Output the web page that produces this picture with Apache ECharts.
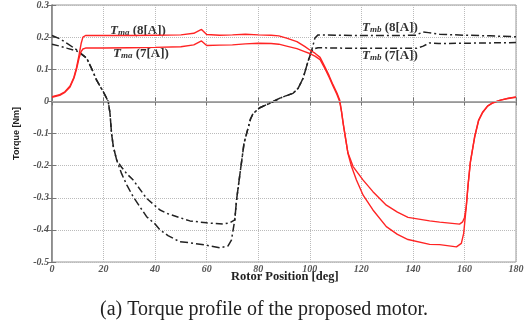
<!DOCTYPE html>
<html>
<head>
<meta charset="utf-8">
<script src="https://cdn.jsdelivr.net/npm/echarts@6/dist/echarts.min.js"></script>
<style>html,body{margin:0;padding:0;background:#fff;}#c{width:528px;height:326px;}</style>
</head>
<body>
<div id="c"></div>
<script>
// Rotor position ticks
var xTickLabels = ['0','20','40','60','80','100','120','140','160','180'];
var yTickLabels = ['-0.5','-0.4','-0.3','-0.2','-0.1','0','0.1','0.2','0.3'];

// T_ma (8[A]) – red
var tma8 = [[0,0.015],[3,0.021],[5,0.03],[7,0.048],[8.5,0.075],[9.5,0.105],[10.5,0.145],[11.3,0.18],[12,0.2],[13,0.205],[20,0.205],[30,0.205],[40,0.206],[50,0.207],[55,0.212],[58,0.224],[60,0.208],[65,0.206],[70,0.207],[75,0.209],[80,0.207],[85,0.206],[88,0.204],[91,0.197],[95,0.186],[98,0.171],[100,0.16],[102,0.15],[104,0.137],[106,0.105],[107.5,0.08],[109,0.052],[110.5,0.027],[111.6,0.004],[112.3,-0.03],[113,-0.07],[114,-0.12],[114.8,-0.162],[116.2,-0.203],[118.1,-0.245],[120.7,-0.292],[124.5,-0.338],[129.7,-0.39],[134,-0.414],[138.1,-0.43],[146.5,-0.445],[150.4,-0.446],[156.9,-0.453],[158.8,-0.442],[159.7,-0.411],[160.7,-0.328],[161.4,-0.262],[162.3,-0.19],[164,-0.11],[165.5,-0.06],[167,-0.036],[169,-0.015],[171,-0.005],[174,0.004],[177,0.01],[180,0.014]];
// T_ma (7[A]) – red
var tma7 = [[0,0.013],[3,0.019],[5,0.028],[7,0.045],[8.5,0.072],[9.5,0.1],[10.5,0.135],[11.3,0.155],[12,0.163],[13,0.166],[20,0.166],[30,0.167],[40,0.168],[50,0.17],[55,0.176],[58,0.188],[60,0.174],[65,0.175],[70,0.176],[75,0.179],[80,0.181],[85,0.18],[88,0.178],[91,0.172],[95,0.164],[98,0.155],[100,0.149],[102,0.141],[104,0.13],[106,0.1],[107.5,0.075],[109,0.048],[110.5,0.022],[111.6,0.0],[112.3,-0.032],[113,-0.072],[114,-0.122],[114.8,-0.16],[116.8,-0.203],[120.7,-0.245],[124.5,-0.281],[129.7,-0.323],[134,-0.345],[138.1,-0.361],[146.5,-0.372],[150.4,-0.376],[158.1,-0.382],[159.3,-0.375],[160,-0.362],[160.7,-0.328],[161.4,-0.26],[162.3,-0.188],[164,-0.108],[165.5,-0.058],[167,-0.034],[169,-0.014],[171,-0.004],[174,0.004],[177,0.009],[180,0.013]];
// T_mb (8[A]) – black
var tmb8 = [[0,0.205],[3,0.195],[6,0.18],[9.6,0.16],[13.4,0.135],[15.5,0.1],[17.3,0.066],[19.9,0.03],[21.8,0.0],[22.5,-0.037],[23.1,-0.1],[23.8,-0.141],[25.1,-0.183],[27,-0.225],[29,-0.26],[31.5,-0.297],[36.7,-0.359],[40,-0.382],[41.9,-0.4],[45,-0.418],[49.6,-0.437],[53.5,-0.44],[60,-0.448],[65.1,-0.456],[68.3,-0.45],[69.6,-0.432],[70.9,-0.369],[71.6,-0.307],[72.6,-0.245],[74.5,-0.13],[76,-0.085],[77,-0.055],[78,-0.038],[80.6,-0.02],[85,-0.004],[88.4,0.01],[91,0.018],[93.5,0.025],[95.5,0.041],[97.4,0.072],[99.3,0.124],[100.6,0.155],[102,0.197],[103.2,0.207],[110,0.206],[120,0.205],[133.6,0.205],[141,0.206],[144,0.216],[146,0.214],[150.4,0.209],[160,0.206],[170,0.204],[180,0.201]];
// T_mb (7[A]) – black
var tmb7 = [[0,0.178],[3,0.172],[6,0.165],[9.6,0.157],[13.4,0.135],[15.5,0.1],[17.3,0.066],[19.9,0.03],[21.8,0.0],[22.5,-0.037],[23.1,-0.1],[23.8,-0.141],[25.1,-0.183],[27,-0.205],[29,-0.225],[31.5,-0.245],[36.7,-0.302],[41.9,-0.338],[45,-0.35],[49.6,-0.362],[53.5,-0.372],[60,-0.378],[66.4,-0.382],[69,-0.378],[70.9,-0.369],[71.6,-0.307],[72.6,-0.245],[74.5,-0.13],[76,-0.085],[77,-0.055],[78,-0.038],[80.6,-0.02],[85,-0.004],[88.4,0.01],[91,0.018],[93.5,0.025],[95.5,0.041],[97.4,0.072],[99.3,0.124],[100.6,0.155],[101.3,0.163],[103.2,0.167],[110,0.166],[120,0.165],[141.3,0.165],[144,0.172],[146.5,0.182],[150,0.18],[160,0.181],[170,0.182],[180,0.183]];

var chart = echarts.init(document.getElementById('c'), null, {renderer: 'canvas'});
var serif = 'Liberation Serif';
var tickFont = {fontFamily: serif, fontStyle: 'italic', fontWeight: 'bold', fontSize: 10, color: '#555'};
function rich(sub, rest) {
  return {
    type: 'text',
    style: {
      text: '{t|T}{s|' + sub + '}{r| ' + rest + '}',
      rich: {
        t: {fontFamily: serif, fontStyle: 'italic', fontWeight: 'bold', fontSize: 13, fill: '#333'},
        s: {fontFamily: serif, fontStyle: 'italic', fontWeight: 'bold', fontSize: 9, fill: '#333', padding: [5,0,0,0]},
        r: {fontFamily: serif, fontWeight: 'bold', fontSize: 13, fill: '#333'}
      }
    }
  };
}
var lab1 = rich('ma', '(8[A])'); lab1.left = 110; lab1.top = 24;
var lab2 = rich('ma', '(7[A])'); lab2.left = 113; lab2.top = 47;
var lab3 = rich('mb', '(8[A])'); lab3.left = 362; lab3.top = 21;
var lab4 = rich('mb', '(7[A])'); lab4.left = 362; lab4.top = 49;

var option = {
  animation: false,
  grid: {left: 52, right: 12, top: 5, bottom: 64, show: true, borderColor: '#999', borderWidth: 1},
  xAxis: [{
    type: 'value', min: 0, max: 180, interval: 20,
    axisLine: {show: true, lineStyle: {color: '#777', width: 1.5}},
    axisTick: {show: true, inside: true, length: 4, lineStyle: {color: '#777'}},
    axisLabel: Object.assign({margin: 2, formatter: function (v) { return xTickLabels[Math.round(v / 20)]; }}, tickFont),
    splitLine: {show: true, lineStyle: {color: '#bbb', type: 'dotted'}}
  }, {
    type: 'value', min: 0, max: 180, interval: 20, position: 'top',
    axisLine: {show: true, lineStyle: {color: '#999'}},
    axisTick: {show: true, inside: true, length: 4, lineStyle: {color: '#777'}},
    axisLabel: {show: false}, splitLine: {show: false}
  }],
  yAxis: [{
    type: 'value', min: -0.5, max: 0.3, interval: 0.1,
    name: 'Torque [Nm]', nameLocation: 'middle', nameGap: 31,
    nameTextStyle: {fontFamily: 'Liberation Sans', fontWeight: 'bold', fontSize: 9, color: '#222'},
    axisLine: {show: true, lineStyle: {color: '#777', width: 1.5}},
    axisTick: {show: true, inside: true, length: 4, lineStyle: {color: '#777'}},
    axisLabel: Object.assign({margin: 3, formatter: function (v) { return yTickLabels[Math.round((v + 0.5) / 0.1)]; }}, tickFont),
    splitLine: {show: true, lineStyle: {color: '#bbb', type: 'dotted'}}
  }, {
    type: 'value', min: -0.5, max: 0.3, interval: 0.1, position: 'right',
    axisLine: {show: true, lineStyle: {color: '#999'}},
    axisTick: {show: true, inside: true, length: 4, lineStyle: {color: '#777'}},
    axisLabel: {show: false}, splitLine: {show: false}
  }],
  series: [
    {name: 'Tmb 8A', type: 'line', data: tmb8, showSymbol: false, lineStyle: {color: '#222', width: 1.5, type: [8, 3, 2, 3]},
     markLine: {silent: true, symbol: 'none', label: {show: false}, lineStyle: {color: '#aaa', type: 'solid', width: 1}, data: [{yAxis: 0}]}},
    {name: 'Tmb 7A', type: 'line', data: tmb7, showSymbol: false, lineStyle: {color: '#222', width: 1.5, type: [7, 3, 2, 3]}},
    {name: 'Tma 8A', type: 'line', data: tma8, showSymbol: false, lineStyle: {color: '#ff2424', width: 1.4}},
    {name: 'Tma 7A', type: 'line', data: tma7, showSymbol: false, lineStyle: {color: '#ff2424', width: 1.4}}
  ],
  graphic: [
    lab1, lab2, lab3, lab4,
    {type: 'text', left: 231, top: 270, style: {text: 'Rotor Position [deg]', fontFamily: serif, fontWeight: 'bold', fontSize: 12.5, fill: '#222'}},
    {type: 'text', left: 'center', top: 300, style: {text: '(a) Torque profile of the proposed motor.', fontFamily: serif, fontSize: 20, fill: '#222'}}
  ]
};
chart.setOption(option);
</script>
</body>
</html>
